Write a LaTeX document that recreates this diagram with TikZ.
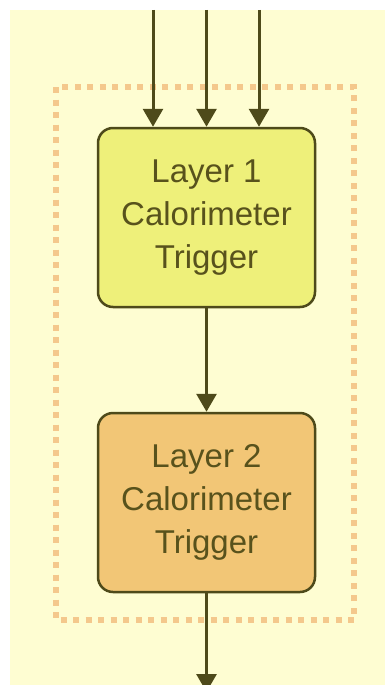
\documentclass[tikz,border=0pt]{standalone}
\usepackage{fontspec}
\setmainfont{Liberation Sans}
\usetikzlibrary{arrows.meta}
\definecolor{bgcream}{RGB}{254,253,210}
\definecolor{lineolive}{RGB}{78,74,26}
\definecolor{boxyellow}{RGB}{238,240,122}
\definecolor{boxorange}{RGB}{242,198,118}
\definecolor{dotorange}{RGB}{244,200,140}
\definecolor{textolive}{RGB}{88,82,28}
\tikzset{
  stage/.style={draw=lineolive, line width=2.5pt, rounded corners=15pt,
    minimum width=217pt, minimum height=179pt, align=center,
    text=textolive, font=\fontsize{33}{43}\selectfont, inner sep=0pt},
  flow/.style={draw=lineolive, line width=3pt,
    -{Triangle[width=20pt,length=18pt]}},
  group/.style={draw=dotorange, line width=6pt, dash pattern=on 6pt off 6.5pt}
}
\begin{document}
\begin{tikzpicture}[x=1pt,y=-1pt]
  \useasboundingbox (0,0) rectangle (385,685);
  \clip (0,0) rectangle (385,685);
  \fill[white] (0,0) rectangle (385,685);
  \fill[bgcream] (10,10) rectangle (395,695);

  % dotted grouping frame
  \draw[group] (56,87) rectangle (354,620);

  % trigger stages
  \node[stage, fill=boxyellow] (l1) at (206.5,217.5) {Layer 1\\Calorimeter\\Trigger};
  \node[stage, fill=boxorange] (l2) at (206.5,502.5) {Layer 2\\Calorimeter\\Trigger};

  % inputs and outputs
  \coordinate (inA) at (153,10);
  \coordinate (inB) at (206.5,10);
  \coordinate (inC) at (259,10);
  \coordinate (out) at (206.5,692);
  \draw[flow] (inA) -- (inA |- l1.north);
  \draw[flow] (inB) -- (l1.north);
  \draw[flow] (inC) -- (inC |- l1.north);
  \draw[flow] (l1.south) -- (l2.north);
  \draw[flow] (l2.south) -- (out);
\end{tikzpicture}
\end{document}
